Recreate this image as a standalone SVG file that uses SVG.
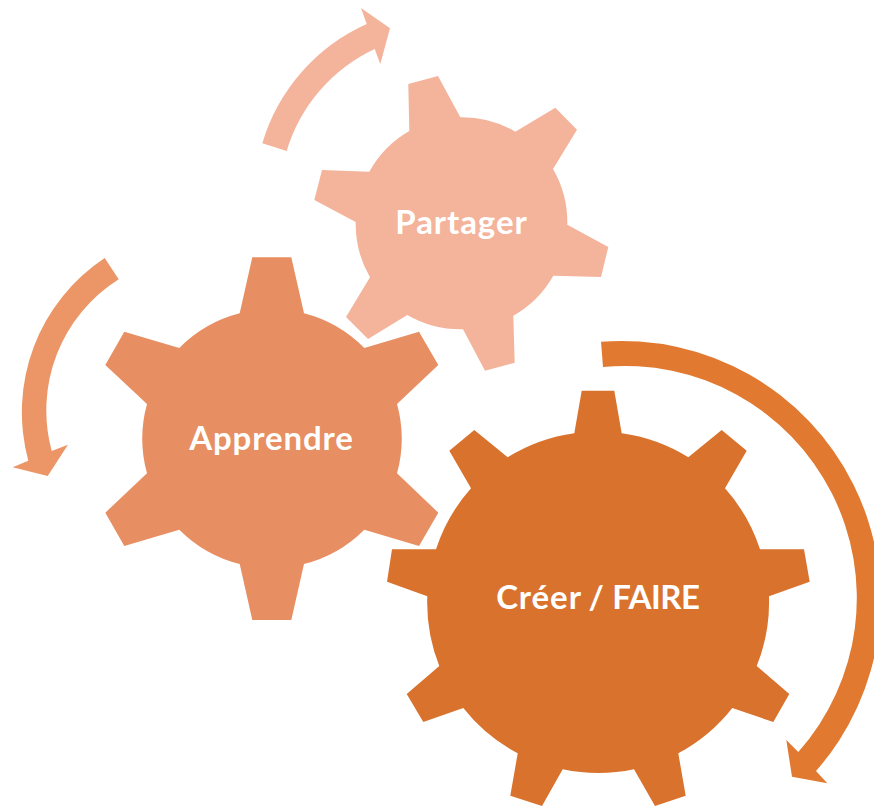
<svg xmlns="http://www.w3.org/2000/svg" width="874" height="806" viewBox="0 0 874 806">
<style>
.label{font-family:"Lato","Liberation Sans",sans-serif;font-weight:700;font-size:33px;letter-spacing:.9px;fill:#fff;text-anchor:middle}
.c1{fill:#D9722D}.c2{fill:#E78E62}.c3{fill:#F4B39B}
.a1{fill:#E17A30}.a2{fill:#EC9566}.a3{fill:#F4B39B}
</style>
<rect width="874" height="806" fill="#fff"/>
<g id="connectors">
<path id="arrow-partager" class="a3" d="M262.3 143.3A190 190 0 0 1 366.7 24L361 8L390 28.3L380.3 64L374.7 49A165 165 0 0 0 286.7 151Z"/>
<path id="arrow-apprendre" class="a2" d="M104.7 258A185 185 0 0 0 28.3 460.7L12.7 467.3L47.7 476L68 444.7L51.7 451A155 155 0 0 1 118.7 279.3Z"/>
<path id="arrow-creer" class="a1" d="M601 341.7A259 259 0 0 1 816 771L827.3 783.3L792 776.7L786.3 740L798.3 752A232 232 0 0 0 603 367Z"/>
</g>
<g id="node-partager">
<path class="c3" d="M408.3 84L438 76L460.3 117.3A106 106 0 0 1 515.3 131.7L555.3 107.7L577 129.7L553 169A106 106 0 0 1 567.3 224.7L608.3 247L601 277L553.3 275.7A106 106 0 0 1 513.3 315.7L514.7 362.7L485 370.7L463 329.3A106 106 0 0 1 407.3 315L368 339L346 317L370 277.3A106 106 0 0 1 355.7 222L314.3 200L322 170L369.3 171.7A106 106 0 0 1 409.3 131Z"/>
<text class="label" x="461.5" y="233.5">Partager</text>
</g>
<g id="node-apprendre">
<path class="c2" d="M252.3 257.3L291.3 257.3L304 313.3A130 130 0 0 1 364.3 348L419 331.7L438.3 365L397 404A130 130 0 0 1 397 473.3L438.3 512.7L419 546L364.3 529.7A130 130 0 0 1 304 564L291.3 620L252.3 620L239.7 564A130 130 0 0 1 179.3 529.7L124.3 546L105.3 512.7L147 473.3A130 130 0 0 1 147 404L105.3 365L124.3 331.7L179.3 348A130 130 0 0 1 239.7 313.3Z"/>
<text class="label" x="271.5" y="449.5">Apprendre</text>
</g>
<g id="node-creer">
<path class="c1" d="M581.7 390.7L614.3 390.7L621.7 433.3A171 171 0 0 1 688.3 457.3L721.7 430L746.7 450.7L725 488.3A171 171 0 0 1 760 549.3L804 549.3L809.7 581.7L769 596.3A171 171 0 0 1 756.7 666L789.3 694L773.3 722L732.3 708A171 171 0 0 1 678.3 753.3L685.7 795.7L655 806L634 769.3A171 171 0 0 1 562.7 769.3L542 806L510.3 795.7L517.7 753.3A171 171 0 0 1 463.3 708L423.3 722L406.7 694L439.3 666A171 171 0 0 1 427.3 596.3L387 581.7L392 549.3L436 549.3A171 171 0 0 1 471 488.3L449.3 450.7L474.3 430L507.7 457.3A171 171 0 0 1 574.3 433.3Z"/>
<text class="label" x="597.8" y="609" style="word-spacing:-1.5px">Créer / <tspan style="letter-spacing:-.5px">FAIRE</tspan></text>
</g>
</svg>
